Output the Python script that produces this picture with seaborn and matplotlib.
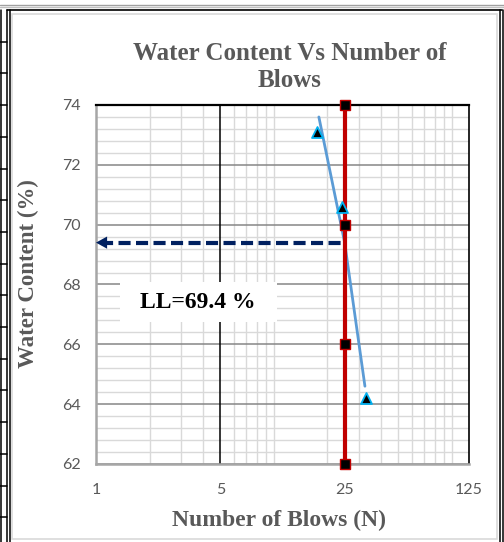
import numpy as np
import matplotlib
matplotlib.use("Agg")
import matplotlib.pyplot as plt
from matplotlib.ticker import FixedLocator, FixedFormatter, NullFormatter
from matplotlib.patches import Rectangle
import seaborn as sns

# Liquid limit test: blow counts and measured water contents (%)
blows = [17.5, 24.0, 32.9]
water_content = [73.1, 70.6, 64.2]

# Flow curve through the trials
flow_blows = [17.9, 25.0, 32.5]
flow_water = [73.6, 69.4, 64.6]

# Reference line at 25 blows
ref_blows = [25, 25, 25, 25]
ref_water = [62, 66, 70, 74]

liquid_limit = 69.4

x_ticks = [1, 5, 25, 125]
x_tick_labels = ["1", "5", "25", "125"]
x_minor = [2, 3, 4, 6, 7, 8, 9, 10, 20, 30, 40, 50, 60, 70, 80, 90, 100]
y_ticks = [62, 64, 66, 68, 70, 72, 74]

sns.set_style("white")
plt.rcParams["font.family"] = ["Lato", "DejaVu Sans"]

SERIF = ["Liberation Serif", "DejaVu Serif"]
GREY_TXT = "#595959"
NAVY = "#002060"
RED = "#c00000"
W, H = 504, 542

fig = plt.figure(figsize=(W / 100, H / 100), dpi=100)

# page decoration around the chart
deco = fig.add_axes([0, 0, 1, 1], zorder=-5)
deco.set_xlim(0, W)
deco.set_ylim(H, 0)
deco.axis("off")
deco.add_patch(Rectangle((12, 14), 485, 525, fill=False, edgecolor="#d9d9d9", lw=1.2))
deco.plot([0, W], [5, 5], color="#a0a0a0", lw=1)
deco.plot([0, W], [7, 7], color="#c0c0c0", lw=1)
deco.plot([7, 502], [9.5, 9.5], color="black", lw=1.2)
for xv in (1, 7, 9.5):
    deco.plot([xv, xv], [9.5, H], color="black", lw=1.1)
for xv in (500, 503):
    deco.plot([xv, xv], [9.5, H], color="black", lw=1.1)
for yv in np.arange(41.7, H, 31.7):
    deco.plot([0, 7], [yv, yv], color="black", lw=1.1)

ax = fig.add_axes([96 / W, 1 - 464 / H, 373 / W, 359 / H])
ax.set_xscale("log")
ax.set_xlim(x_ticks[0], x_ticks[-1])
ax.set_ylim(y_ticks[0], y_ticks[-1])

ax.xaxis.set_major_locator(FixedLocator(x_ticks))
ax.xaxis.set_major_formatter(FixedFormatter(x_tick_labels))
ax.xaxis.set_minor_locator(FixedLocator(x_minor))
ax.xaxis.set_minor_formatter(NullFormatter())
ax.yaxis.set_major_locator(FixedLocator(y_ticks))
y_minor = [v for v in np.round(np.arange(62, 74.01, 0.4), 1) if v not in y_ticks]
ax.yaxis.set_minor_locator(FixedLocator(y_minor))

ax.set_axisbelow(True)
ax.grid(which="minor", color="#d9d9d9", lw=1.0)
ax.yaxis.grid(True, which="major", color="#868686", lw=1.1)
ax.xaxis.grid(False, which="major")
# major vertical gridlines drawn above the minor grid
ax.vlines(x_ticks[1:-1], y_ticks[0], y_ticks[-1], color="black", lw=1.1, zorder=1)

for side in ("left", "bottom"):
    ax.spines[side].set_color("#a6a6a6")
    ax.spines[side].set_linewidth(1.8)
ax.spines["top"].set_color("black")
ax.spines["top"].set_linewidth(1.6)
ax.spines["right"].set_color("black")
ax.spines["right"].set_linewidth(1.2)

ax.tick_params(which="both", length=0)
ax.tick_params(axis="x", pad=14, labelsize=11.5, labelcolor=GREY_TXT)
ax.tick_params(axis="y", pad=11, labelsize=11.5, labelcolor=GREY_TXT)

# flow curve and trial points
sns.lineplot(x=flow_blows, y=flow_water, estimator=None, sort=False,
             color="#5b9bd5", lw=2.0, ax=ax, zorder=4)
sns.scatterplot(x=blows, y=water_content, marker="^", s=62, color="black",
                edgecolor="#00b0f0", linewidth=1.3, ax=ax, zorder=6)

# 25-blow reference line
sns.lineplot(x=ref_blows, y=ref_water, estimator=None, sort=False,
             color=RED, lw=3.0, marker="s", markersize=6.5,
             markerfacecolor="black", markeredgecolor=RED,
             markeredgewidth=1.0, ax=ax, zorder=5, clip_on=False)

# liquid limit read-off arrow
ax.plot([x_ticks[0] * 1.06, ref_blows[0]], [liquid_limit, liquid_limit],
        color=NAVY, lw=3.0, dashes=(2.9, 1.3), zorder=5, dash_capstyle="butt")
ax.annotate("", xy=(0, liquid_limit), xycoords=("axes fraction", "data"),
            xytext=(0.04, liquid_limit), textcoords=("axes fraction", "data"),
            arrowprops=dict(arrowstyle="-|>,head_length=0.4,head_width=0.22",
                            color=NAVY, lw=0, mutation_scale=20,
                            shrinkA=0, shrinkB=0), zorder=6)

# label box
ax.add_patch(Rectangle((0.0643, 0.3955), 0.4207, 0.1115, transform=ax.transAxes,
                       facecolor="white", edgecolor="none", zorder=3))
ax.text(0.2735, 0.45, f"LL={liquid_limit} %", transform=ax.transAxes,
        ha="center", va="center", fontsize=17, fontweight="bold",
        family=SERIF, color="black", zorder=4)

ax.set_xlabel("")
ax.set_ylabel("")

fig.text(290 / W, 1 - 67 / H, "Water Content Vs Number of\nBlows",
         ha="center", va="center", multialignment="center", linespacing=1.2,
         fontsize=18, fontweight="bold", family=SERIF, color=GREY_TXT)
fig.text(279.5 / W, 1 - 520 / H, "Number of Blows (N)", ha="center", va="center",
         fontsize=17, fontweight="bold", family=SERIF, color=GREY_TXT)
fig.text(28 / W, 1 - 274 / H, "Water Content (%)", ha="center", va="center",
         rotation=90, fontsize=16.5, fontweight="bold", family=SERIF, color=GREY_TXT)

fig.savefig("out.png", dpi=100)
